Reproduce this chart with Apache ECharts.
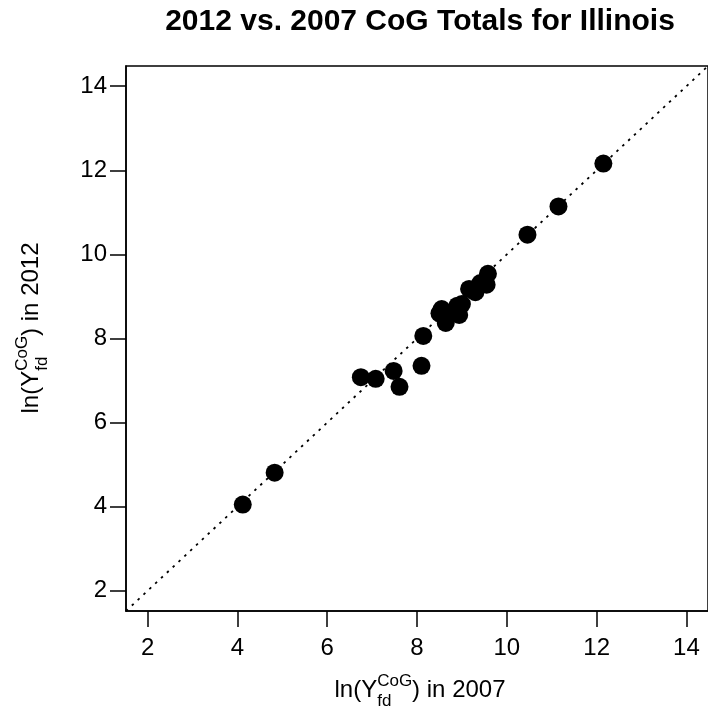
<!DOCTYPE html>
<html>
<head>
<meta charset="utf-8">
<script src="https://cdn.jsdelivr.net/npm/echarts@6/dist/echarts.min.js"></script>
<style>html,body{margin:0;padding:0;background:#fff}#c{width:708px;height:715px}</style>
</head>
<body>
<div id="c"></div>
<script>
// Data (ln totals, 2007 vs 2012)
const x2007 = [4.12, 4.83, 6.75, 7.08, 7.48, 7.61, 8.10, 8.14, 8.50, 8.55, 8.64, 8.75, 8.90, 8.94, 9.00, 9.16, 9.30, 9.41, 9.55, 9.58, 10.46, 11.15, 12.15];
const y2012 = [4.05, 4.81, 7.08, 7.04, 7.23, 6.85, 7.35, 8.06, 8.60, 8.70, 8.37, 8.58, 8.78, 8.56, 8.82, 9.18, 9.10, 9.32, 9.28, 9.54, 10.47, 11.14, 12.16];
const tickValues = [2, 4, 6, 8, 10, 12, 14];
const axisMin = 1.52, axisMax = 14.48;
const titleText = '2012 vs. 2007 CoG Totals for Illinois';

const FONT = '"Liberation Sans", Arial, sans-serif';
const chart = echarts.init(document.getElementById('c'), null, {renderer: 'canvas'});

const cv = document.createElement('canvas').getContext('2d');
function tw(t, size, weight) { cv.font = (weight || 'normal') + ' ' + size + 'px ' + FONT; return cv.measureText(t).width; }

const MAIN = 24, SMALL = 17;
const titleSize = Math.round(22 * 514 / tw(titleText, 22, 'bold'));

function txt(t, x, y, size) {
  return {type: 'text', x: x, y: y, style: {text: t, font: size + 'px ' + FONT, fill: '#000', align: 'left', verticalAlign: 'middle'}};
}
// "ln(Y_fd^CoG) in YEAR" laid out along local x axis, centred on 0, main text middle at y=0
function labelPieces(year) {
  const a = 'ln(Y', b = ') in ' + year;
  const wa = tw(a, MAIN), ws = tw('CoG', SMALL), wf = tw('fd', SMALL), wb = tw(b, MAIN);
  const total = wa + Math.max(ws, wf) + wb;
  const x0 = -total / 2;
  return [
    txt(a, x0, 0, MAIN),
    txt('CoG', x0 + wa, -9, SMALL),
    txt('fd', x0 + wa, 11, SMALL),
    txt(b, x0 + wa + Math.max(ws, wf), 0, MAIN)
  ];
}

const pts = x2007.map((v, i) => [v, y2012[i]]);

const axisCommon = {
  type: 'value', min: axisMin, max: axisMax,
  axisLine: {show: true, lineStyle: {color: '#000', width: 1.5}},
  axisTick: {show: true, length: 16, inside: false, lineStyle: {color: '#000', width: 1.5}, customValues: tickValues},
  axisLabel: {color: '#000', fontSize: MAIN, fontFamily: FONT, customValues: tickValues},
  splitLine: {show: false}
};

chart.setOption({
  animation: false,
  backgroundColor: '#fff',
  grid: {left: 126, top: 66, right: -5, bottom: 104, show: true, borderColor: '#000', borderWidth: 1.5, backgroundColor: 'transparent'},
  xAxis: Object.assign({}, axisCommon, {axisLabel: Object.assign({}, axisCommon.axisLabel, {margin: 25})}),
  yAxis: Object.assign({}, axisCommon, {axisLabel: Object.assign({}, axisCommon.axisLabel, {margin: 19})}),
  series: [
    {type: 'line', data: [[axisMin, axisMin], [axisMax, axisMax]], symbol: 'none', silent: true, clip: true,
     lineStyle: {color: '#000', width: 1.8, type: [2.5, 5.5]}, z: 1},
    {type: 'scatter', data: pts, symbol: 'circle', symbolSize: 18, itemStyle: {color: '#000', opacity: 1}, z: 2}
  ],
  graphic: [
    {type: 'text', x: 420, y: 22, style: {text: titleText, font: 'bold ' + titleSize + 'px ' + FONT, fill: '#000', align: 'center', verticalAlign: 'middle'}},
    {type: 'group', x: 420, y: 690, children: labelPieces('2007')},
    {type: 'group', x: 31, y: 328, rotation: Math.PI / 2, children: labelPieces('2012')}
  ]
});
</script>
</body>
</html>
